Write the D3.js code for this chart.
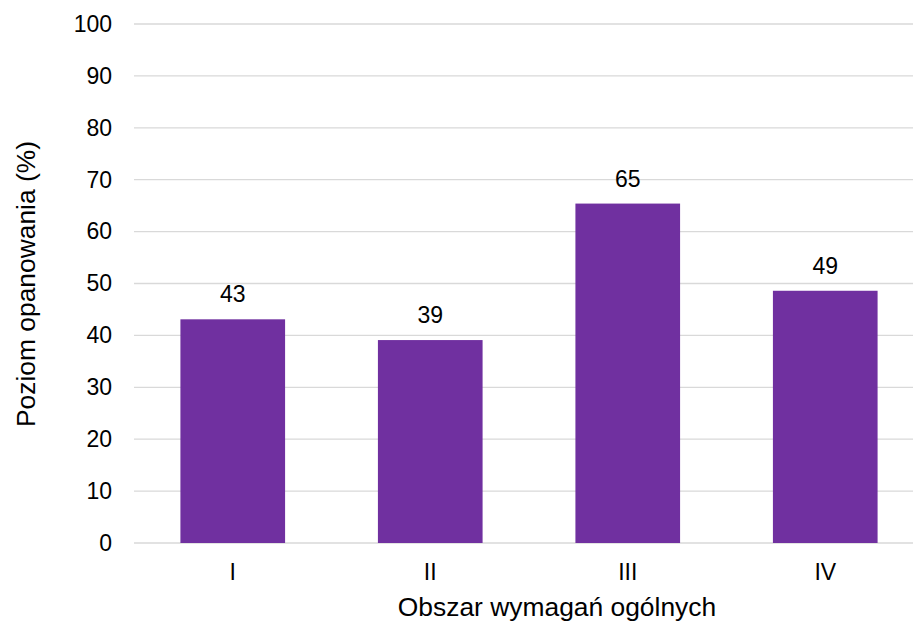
<html>
<head>
<meta charset="utf-8">
<script src='https://d3js.org/d3.v7.min.js'></script>
<style>
body {margin:0; background:#fff;}
text {font-family: "Liberation Sans", Arial, sans-serif; fill:#000;}
</style>
</head>
<body onload='init()'>
<svg width=913 height=634></svg>
<script>
const categories = ["I", "II", "III", "IV"];
const values = [43.1, 39.1, 65.4, 48.6];
const yTicks = [0, 10, 20, 30, 40, 50, 60, 70, 80, 90, 100];
const xTitle = "Obszar wymagań ogólnych";
const yTitle = "Poziom opanowania (%)";

function init() {
  const svg = d3.select("svg");
  const left = 134, right = 924, top = 24, bottom = 543;

  const x = d3.scaleBand().domain(categories).range([left, right])
      .paddingInner(0.47).paddingOuter(0.235);
  const y = d3.scaleLinear().domain([0, 100]).range([bottom, top]);

  // gridlines
  svg.append("g").selectAll("line")
    .data(yTicks).enter().append("line")
      .attr("x1", left).attr("x2", 913)
      .attr("y1", d => y(d)).attr("y2", d => y(d))
      .attr("stroke", "#d9d9d9").attr("stroke-width", 1.3);

  // y tick labels
  const yAxis = d3.axisLeft(y).tickValues(yTicks).tickSize(0).tickPadding(0);
  const ga = svg.append("g").attr("transform", "translate(112,0)").call(yAxis);
  ga.select(".domain").remove();
  ga.selectAll("text").attr("font-size", 23).attr("font-family", "Liberation Sans, Arial, sans-serif").attr("fill", "#000");

  // bars
  svg.append("g").selectAll("rect")
    .data(values).enter().append("rect")
      .attr("x", (d, i) => x(categories[i]))
      .attr("width", x.bandwidth())
      .attr("y", d => y(d))
      .attr("height", d => y(0) - y(d))
      .attr("fill", "#7030A0");

  // value labels
  svg.append("g").selectAll("text")
    .data(values).enter().append("text")
      .attr("x", (d, i) => x(categories[i]) + x.bandwidth() / 2)
      .attr("y", d => y(d) - 17)
      .attr("text-anchor", "middle")
      .attr("font-size", 23)
      .text(d => Math.round(d));

  // x tick labels
  const xAxis = d3.axisBottom(x).tickSize(0).tickPadding(0);
  const gx = svg.append("g").attr("transform", "translate(0,564)").call(xAxis);
  gx.select(".domain").remove();
  gx.selectAll("text").attr("font-size", 23).attr("font-family", "Liberation Sans, Arial, sans-serif").attr("fill", "#000");

  // axis titles
  svg.append("text")
    .attr("x", 557).attr("y", 616)
    .attr("text-anchor", "middle")
    .attr("font-size", 26.4)
    .text(xTitle);

  svg.append("text")
    .attr("transform", "translate(35,284) rotate(-90)")
    .attr("text-anchor", "middle")
    .attr("font-size", 26.4)
    .text(yTitle);
}
</script>
</body>
</html>
